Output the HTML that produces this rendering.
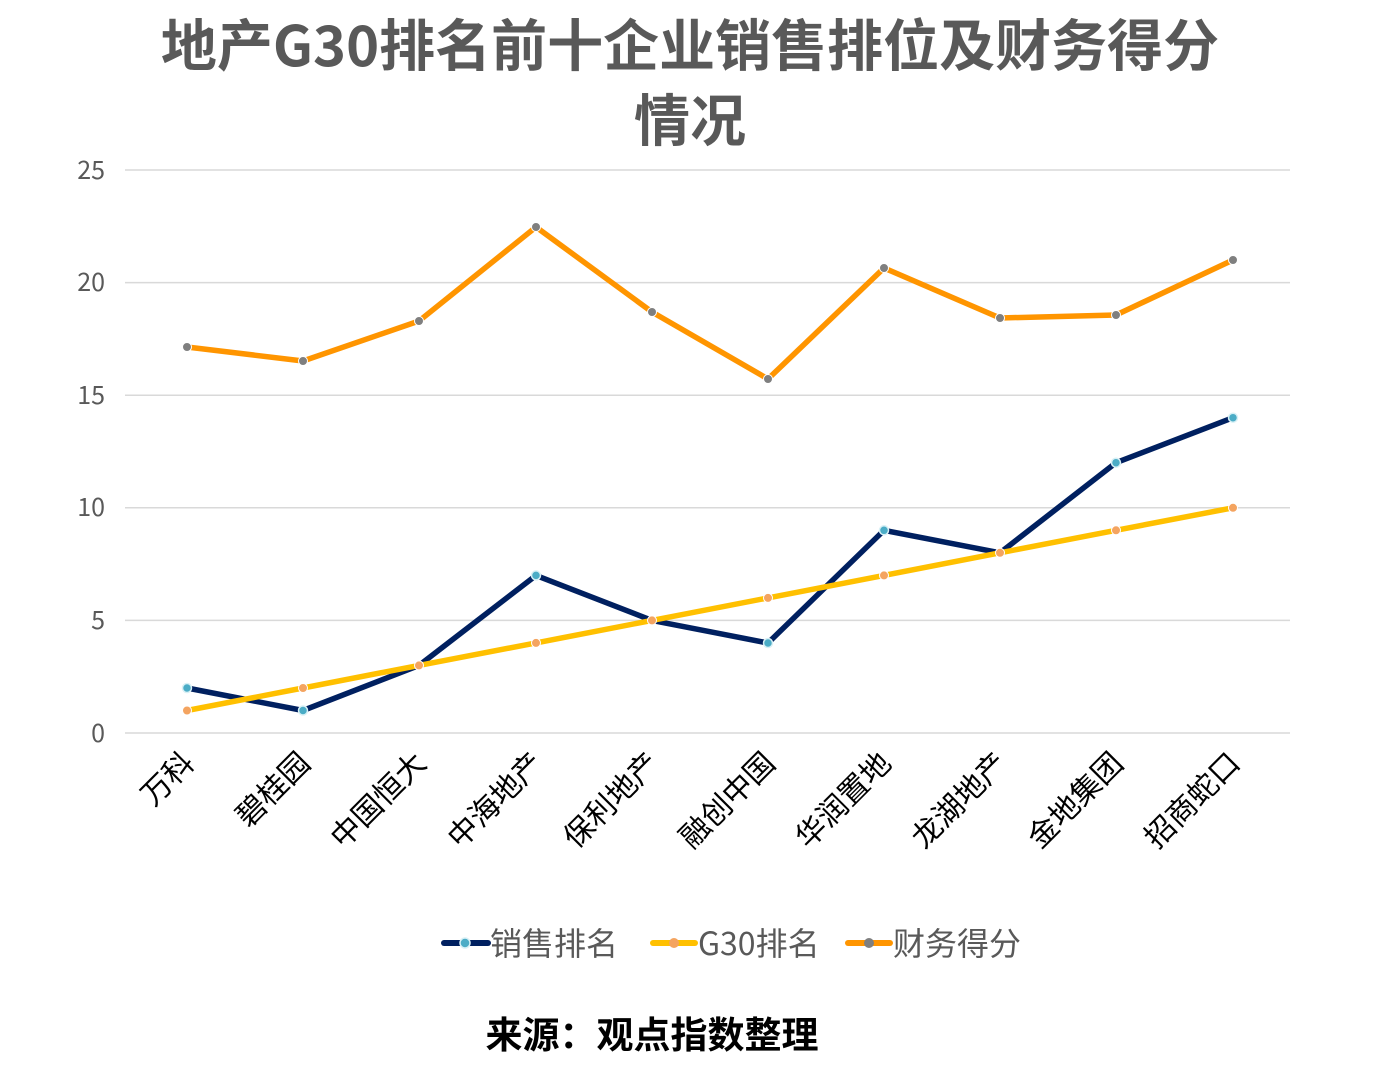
<!DOCTYPE html>
<html><head><meta charset="utf-8"><style>
html,body{margin:0;padding:0;background:#fff;}
svg{display:block;font-family:"WenQuanYi Zen Hei","Noto Sans CJK SC",sans-serif;}
</style></head><body>
<svg width="1397" height="1078" viewBox="0 0 1397 1078" xmlns="http://www.w3.org/2000/svg">
<text x="690" y="66" text-anchor="middle" font-size="56" font-weight="bold" fill="#595959">地产G30排名前十企业销售排位及财务得分</text>
<text x="690" y="141" text-anchor="middle" font-size="56" font-weight="bold" fill="#595959">情况</text>
<g stroke="#d9d9d9" stroke-width="1.5">
<line x1="125" x2="1290" y1="170" y2="170"/><line x1="125" x2="1290" y1="282.6" y2="282.6"/>
<line x1="125" x2="1290" y1="395.2" y2="395.2"/><line x1="125" x2="1290" y1="507.8" y2="507.8"/>
<line x1="125" x2="1290" y1="620.4" y2="620.4"/><line x1="125" x2="1290" y1="733" y2="733"/>
</g>
<g font-size="25" fill="#595959" text-anchor="end">
<text x="105" y="179">25</text><text x="105" y="291">20</text><text x="105" y="404">15</text>
<text x="105" y="516">10</text><text x="105" y="629">5</text><text x="105" y="742">0</text>
</g>
<g font-size="30" fill="#000" text-anchor="end">
<text transform="translate(196,765) rotate(-45)">万科</text>
<text transform="translate(312,765) rotate(-45)">碧桂园</text>
<text transform="translate(428,765) rotate(-45)">中国恒大</text>
<text transform="translate(545,765) rotate(-45)">中海地产</text>
<text transform="translate(661,765) rotate(-45)">保利地产</text>
<text transform="translate(777,765) rotate(-45)">融创中国</text>
<text transform="translate(893,765) rotate(-45)">华润置地</text>
<text transform="translate(1009,765) rotate(-45)">龙湖地产</text>
<text transform="translate(1125,765) rotate(-45)">金地集团</text>
<text transform="translate(1242,765) rotate(-45)">招商蛇口</text>
</g>
<polyline fill="none" stroke="#ff9500" stroke-width="5.5" stroke-linejoin="round" points="187,347 303,361 419,321 536,227 652,312 768,379 884,268 1000,318 1116,315 1233,260"/>
<g fill="#7f7f7f" stroke="#fff" stroke-width="1"><circle cx="187" cy="347" r="4.5"/><circle cx="303" cy="361" r="4.5"/><circle cx="419" cy="321" r="4.5"/><circle cx="536" cy="227" r="4.5"/><circle cx="652" cy="312" r="4.5"/><circle cx="768" cy="379" r="4.5"/><circle cx="884" cy="268" r="4.5"/><circle cx="1000" cy="318" r="4.5"/><circle cx="1116" cy="315" r="4.5"/><circle cx="1233" cy="260" r="4.5"/></g>
<polyline fill="none" stroke="#002060" stroke-width="5.5" stroke-linejoin="round" points="187,688 303,710.5 419,665.4 536,575.4 652,620.4 768,643 884,530.3 1000,552.8 1116,462.7 1233,417.7"/>
<polyline fill="none" stroke="#ffc000" stroke-width="5.5" stroke-linejoin="round" points="187,710.5 303,688 419,665.4 536,642.9 652,620.4 768,597.9 884,575.4 1000,552.8 1116,530.3 1233,507.8"/>
<g fill="#4bacc6" stroke="#d8f0f5" stroke-width="1.5"><circle cx="187" cy="688" r="4.5"/><circle cx="303" cy="710.5" r="4.5"/><circle cx="536" cy="575.4" r="4.5"/><circle cx="768" cy="643" r="4.5"/><circle cx="884" cy="530.3" r="4.5"/><circle cx="1116" cy="462.7" r="4.5"/><circle cx="1233" cy="417.7" r="4.5"/></g>
<g fill="#f4a460" stroke="#fff" stroke-width="1"><circle cx="187" cy="710.5" r="4.5"/><circle cx="303" cy="688" r="4.5"/><circle cx="419" cy="665.4" r="4.5"/><circle cx="536" cy="642.9" r="4.5"/><circle cx="652" cy="620.4" r="4.5"/><circle cx="768" cy="597.9" r="4.5"/><circle cx="884" cy="575.4" r="4.5"/><circle cx="1000" cy="552.8" r="4.5"/><circle cx="1116" cy="530.3" r="4.5"/><circle cx="1233" cy="507.8" r="4.5"/></g>
<g font-size="32" fill="#595959">
<line x1="444" x2="488" y1="943" y2="943" stroke="#002060" stroke-width="6" stroke-linecap="round"/><circle cx="465" cy="943" r="5" fill="#4bacc6" stroke="#d8f0f5" stroke-width="1.5"/>
<text x="490" y="955">销售排名</text>
<line x1="653" x2="695" y1="943" y2="943" stroke="#ffc000" stroke-width="6" stroke-linecap="round"/><circle cx="674" cy="943" r="5" fill="#f4a460"/>
<text x="698" y="955">G30排名</text>
<line x1="848" x2="890" y1="943" y2="943" stroke="#ff9500" stroke-width="6" stroke-linecap="round"/><circle cx="869" cy="943" r="5" fill="#7f7f7f"/>
<text x="893" y="955">财务得分</text>
</g>
<text x="652" y="1048" text-anchor="middle" font-size="37" font-weight="bold" fill="#000">来源：观点指数整理</text>
</svg>
</body></html>
